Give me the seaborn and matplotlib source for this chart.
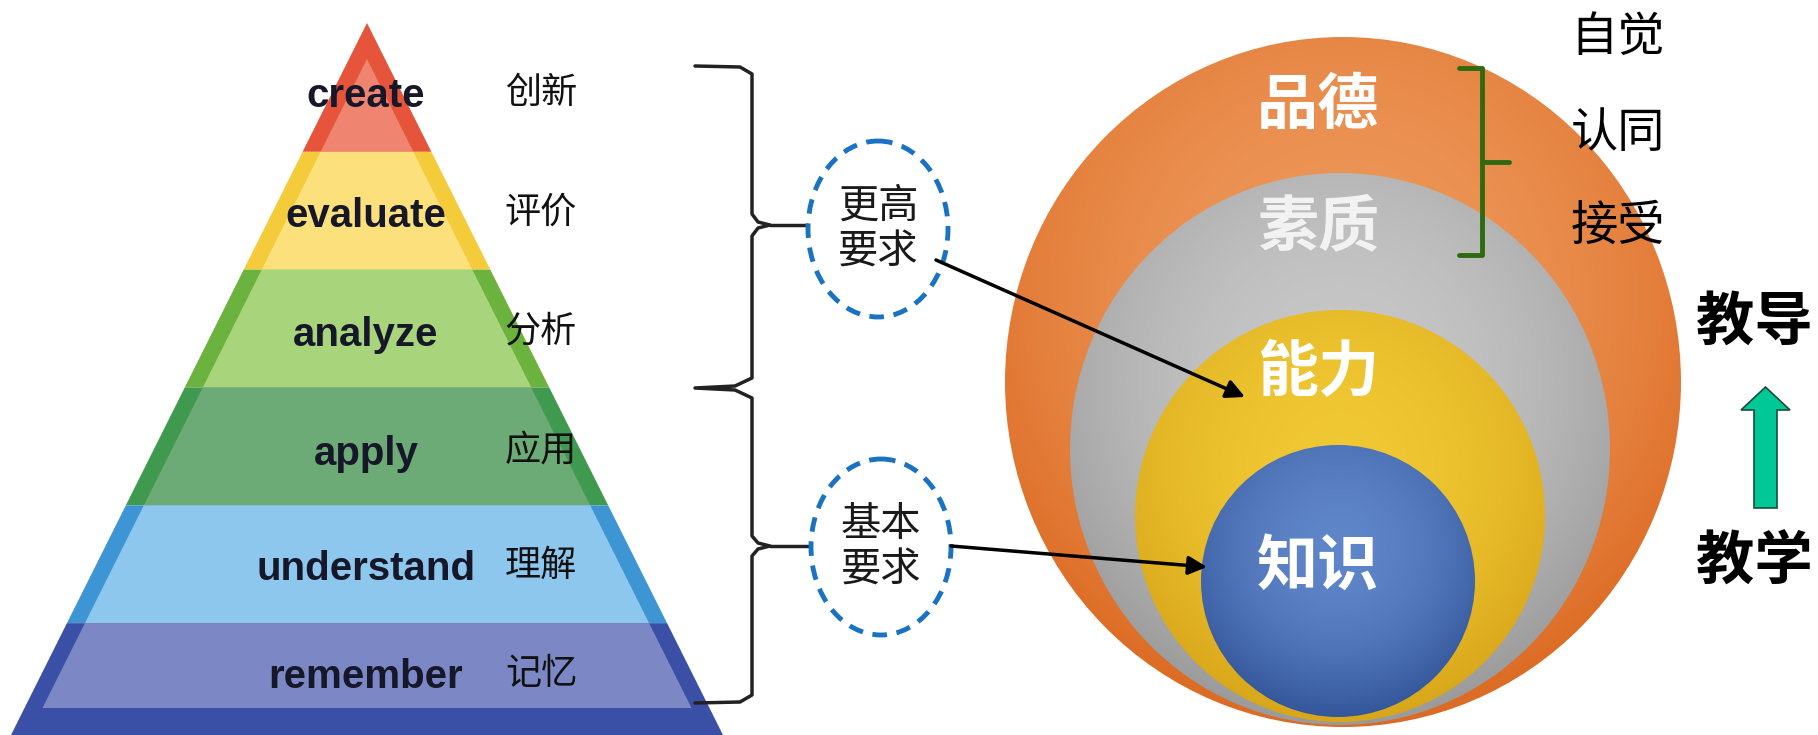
import numpy as np
import seaborn as sns
import matplotlib.pyplot as plt
from matplotlib.patches import Polygon, Ellipse
from matplotlib.colors import LinearSegmentedColormap

# 資料 / labels
levels_en = ["create", "evaluate", "analyze", "apply", "understand", "remember"]
levels_zh = ["创新", "评价", "分析", "应用", "理解", "记忆"]
requirements = ["更高\n要求", "基本\n要求"]
rings = ["品德", "素质", "能力", "知识"]
attitude = ["自觉", "认同", "接受"]
teach = ["教导", "教学"]

# 樣式
band_dark = ["#e6553b", "#f4cb3a", "#6cb23e", "#3f994f", "#3d95d4", "#3a4fa6"]
band_light = ["#ef8570", "#fbe07c", "#a8d47b", "#6caa76", "#8ec7ed", "#7c87c5"]
ring_light = ["#f2a469", "#d4d4d4", "#f7d23a", "#6b93d6"]
ring_dark = ["#dc6a22", "#9a9a9a", "#d8a61a", "#34569a"]
ring_text = ["white", "#f2f2f2", "white", "white"]
# (cx, cy, rx, ry)
ring_geom = [(1343, 382, 338, 345), (1340, 449, 270, 276),
             (1340, 516, 205, 206), (1338, 581, 137, 136)]
ring_label_y = [106, 228, 373, 567]

sns.set_theme(style="white")
plt.rcParams['font.family'] = ['Noto Sans CJK SC', 'DejaVu Sans']

W, H = 1818, 735
fig = plt.figure(figsize=(W / 100, H / 100), dpi=100)
ax = fig.add_axes([0, 0, 1, 1])
ax.set_xlim(0, W)
ax.set_ylim(H, 0)
ax.axis("off")

# ---- pyramid ----
apex_x, apex_y, base_y = 367, 23, 741
slope = 0.5
inset = 18
edges = np.linspace(34, base_y, len(levels_en) + 1)
edges[0] = apex_y
shift = [9, 5, 6, 8, 5, -5]


def hw(y):
    return slope * (y - apex_y)


for i in range(len(levels_en)):
    y0, y1 = edges[i], edges[i + 1]
    outer = [(apex_x - hw(y0), y0), (apex_x + hw(y0), y0),
             (apex_x + hw(y1), y1), (apex_x - hw(y1), y1)]
    ax.add_patch(Polygon(outer, closed=True, fc=band_dark[i], ec="none", zorder=1))
    iy0 = y0 + (inset / slope if i == 0 else 0)
    iy1 = y1 - (33 if i == len(levels_en) - 1 else 0)
    inner = [(apex_x - hw(iy0) + inset, iy0), (apex_x + hw(iy0) - inset, iy0),
             (apex_x + hw(iy1) - inset, iy1), (apex_x - hw(iy1) + inset, iy1)]
    ax.add_patch(Polygon(inner, closed=True, fc=band_light[i], ec="none", zorder=2))
    yc = (y0 + y1) / 2 + shift[i]
    ax.text(366, yc, levels_en[i], ha="center", va="center", fontsize=29,
            fontweight="bold", family=["Liberation Sans", "DejaVu Sans"],
            color="#16182a", zorder=5)
    ax.text(541, yc - 3, levels_zh[i], ha="center", va="center", fontsize=26,
            color="#111111", zorder=5)

# ---- braces ----
bx, lx = 752, 695
brace = [(lx, 66), (740, 67), (bx, 74), (bx, 214), (758, 222), (770, 225),
         (758, 228), (bx, 236), (bx, 378), (735, 386), (lx, 388),
         (735, 390), (bx, 398), (bx, 536), (758, 543), (770, 546),
         (758, 549), (bx, 556), (bx, 695), (740, 702), (lx, 703)]
bxs, bys = zip(*brace)
ax.plot(bxs, bys, color="#222222", lw=2.5, zorder=3, solid_joinstyle="round")
for ty in (225, 546):
    ax.plot([770, 810], [ty, ty], color="#222222", lw=2.5, zorder=3)

# dashed ellipses with text
for (cx, cy), txt in zip([(878, 229), (881, 547)], requirements):
    ax.add_patch(Ellipse((cx, cy), 140, 176, fc="white", ec="#1a72c2", lw=3.5,
                         ls=(0, (3, 2)), zorder=4))
    ax.text(cx, cy, txt, ha="center", va="center", fontsize=29,
            linespacing=1.15, color="#1a1a1a", zorder=5)

# ---- nested circles ----
gy, gx = np.mgrid[0:1:300j, -1:1:300j]
for k, ((cx, cy, rx, ry), lo, hi) in enumerate(zip(ring_geom, ring_light, ring_dark)):
    e = Ellipse((cx, cy), 2 * rx, 2 * ry, fc="none", ec="none", zorder=10 + 2 * k)
    ax.add_patch(e)
    r2 = gx ** 2 + ((gy - 0.5) * 2) ** 2
    t = np.clip(0.5 * gy + 0.5 * r2, 0, 1)
    cmap = LinearSegmentedColormap.from_list(f"g{k}", [lo, hi])
    im = ax.imshow(t, cmap=cmap, vmin=0, vmax=1, extent=[cx - rx, cx + rx, cy + ry, cy - ry],
                   origin="upper", aspect="auto", zorder=10 + 2 * k, interpolation="bilinear")
    im.set_clip_path(e)
    ax.text(1318, ring_label_y[k], rings[k], ha="center", va="center", fontsize=44,
            fontweight="bold", color=ring_text[k], zorder=30)

ax.set_xlim(0, W)
ax.set_ylim(H, 0)

# arrows from ellipses to circles
arrow_kw = dict(arrowstyle="-|>", color="black", lw=2.5, mutation_scale=28,
                shrinkA=0, shrinkB=0)
ax.annotate("", xy=(1245, 397), xytext=(936, 260), arrowprops=arrow_kw, zorder=31)
ax.annotate("", xy=(1207, 567), xytext=(951, 546), arrowprops=arrow_kw, zorder=31)

# green bracket
ax.plot([1459, 1482, 1482, 1459], [68, 68, 255, 255], color="#2f6a10", lw=3.5, zorder=32)
ax.plot([1482, 1509], [162, 162], color="#2f6a10", lw=3.5, zorder=32)

for j, txt in enumerate(attitude):
    ax.text(1618, [38, 134, 227][j], txt, ha="center", va="center", fontsize=34,
            color="black", zorder=32)

# teaching arrow
ax.add_patch(Polygon([(1754, 508), (1754, 410), (1741, 410), (1765.5, 387),
                      (1790, 410), (1777, 410), (1777, 508)], closed=True,
                     fc="#00c896", ec="#1d4d3d", lw=1.2, zorder=32))
for txt, ty in zip(teach, [323, 563]):
    ax.text(1754, ty, txt, ha="center", va="center", fontsize=42,
            fontweight="black", color="black", zorder=32)

fig.savefig("out.png", dpi=100)
